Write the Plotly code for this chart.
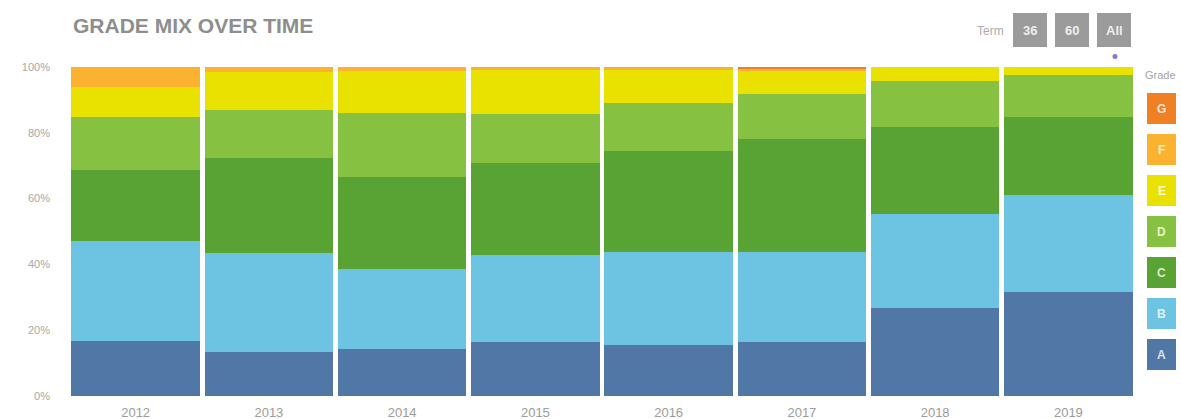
import plotly.graph_objects as go

# ---- data (percent of loans by grade, per year) ----
years = ["2012", "2013", "2014", "2015", "2016", "2017", "2018", "2019"]
grades = ["A", "B", "C", "D", "E", "F", "G"]
grade_a = [16.6, 13.4, 14.4, 16.4, 15.6, 16.4, 26.6, 31.6]
grade_b = [30.4, 30.2, 24.3, 26.4, 28.2, 27.4, 28.8, 29.4]
grade_c = [21.6, 28.6, 27.8, 28.1, 30.7, 34.4, 26.4, 23.8]
grade_d = [16.2, 14.6, 19.6, 14.9, 14.6, 13.7, 13.8, 12.7]
grade_e = [9.2, 11.7, 12.6, 13.2, 9.9, 6.8, 4.4, 2.5]
grade_f = [6.0, 1.5, 1.3, 1.0, 1.0, 0.8, 0.0, 0.0]
grade_g = [0.0, 0.0, 0.0, 0.0, 0.0, 0.5, 0.0, 0.0]
y_ticks = [0, 20, 40, 60, 80, 100]
y_tick_labels = ["0%", "20%", "40%", "60%", "80%", "100%"]
term_buttons = ["36", "60", "All"]

series = [grade_a, grade_b, grade_c, grade_d, grade_e, grade_f, grade_g]
colors = ["#5077a5", "#6cc3e2", "#59a234", "#86c141", "#e9e200", "#fbb230", "#f08024"]

W, H = 1181, 419
ML, MR, MT, MB = 69, 46, 67, 23
PW, PH = W - ML - MR, H - MT - MB


def px(x):
    return (x - ML) / PW


def py(y):
    return (H - MB - y) / PH


fig = go.Figure()
for name, vals, col in zip(grades, series, colors):
    fig.add_trace(go.Bar(
        x=years, y=vals, name=name, marker=dict(color=col, line=dict(width=0)),
        showlegend=False,
    ))

shapes = []
annotations = []

# title
annotations.append(dict(
    text="<b>GRADE MIX OVER TIME</b>", x=px(71), y=py(25), xref="paper", yref="paper",
    xanchor="left", yanchor="middle", showarrow=False,
    font=dict(family="Liberation Sans, Arial", size=21, color="#8e8e8e"),
))

# term selector
annotations.append(dict(
    text="Term", x=px(1006), y=py(31), xref="paper", yref="paper",
    xanchor="right", yanchor="middle", showarrow=False,
    font=dict(family="Liberation Sans, Arial", size=12, color="#ababab"),
))
for i, lab in enumerate(term_buttons):
    x0 = 1013 + i * 42
    shapes.append(dict(type="rect", xref="paper", yref="paper",
                       x0=px(x0), x1=px(x0 + 34), y0=py(47), y1=py(13),
                       fillcolor="#9b9b9b", line=dict(width=0), layer="above"))
    annotations.append(dict(
        text="<b>%s</b>" % lab, x=px(x0 + 17), y=py(30), xref="paper", yref="paper",
        xanchor="center", yanchor="middle", showarrow=False,
        font=dict(family="Liberation Sans, Arial", size=13, color="rgba(255,255,255,0.85)"),
    ))
shapes.append(dict(type="circle", xref="paper", yref="paper",
                   x0=px(1112.5), x1=px(1117.5), y0=py(59), y1=py(54),
                   fillcolor="#8579d6", line=dict(width=0), layer="above"))

# legend (custom boxes with letters)
annotations.append(dict(
    text="Grade", x=px(1143), y=py(75), xref="paper", yref="paper",
    xanchor="left", yanchor="middle", showarrow=False,
    font=dict(family="Liberation Sans, Arial", size=11, color="#a5a5a5"),
))
for i, (name, col) in enumerate(zip(grades[::-1], colors[::-1])):
    top = 93 + i * 41
    shapes.append(dict(type="rect", xref="paper", yref="paper",
                       x0=px(1147), x1=px(1176), y0=py(top + 31), y1=py(top),
                       fillcolor=col, line=dict(width=0), layer="above"))
    annotations.append(dict(
        text="<b>%s</b>" % name, x=px(1161.5), y=py(top + 15.5), xref="paper", yref="paper",
        xanchor="center", yanchor="middle", showarrow=False,
        font=dict(family="Liberation Sans, Arial", size=12, color="rgba(255,255,255,0.8)"),
    ))

fig.update_layout(
    width=W, height=H,
    margin=dict(l=ML, r=MR, t=MT, b=MB, pad=0, autoexpand=False),
    barmode="stack", bargap=0.035,
    paper_bgcolor="white", plot_bgcolor="white",
    font=dict(family="Liberation Sans, Arial", color="#9a9a9a"),
    shapes=shapes, annotations=annotations,
    xaxis=dict(showgrid=False, zeroline=False, showline=False, ticks="", automargin=False,
               tickfont=dict(size=13, color="#9c9c9c"), ticklabelstandoff=7),
    yaxis=dict(range=[0, 100], tickmode="array", tickvals=y_ticks, ticktext=y_tick_labels,
               showgrid=False, zeroline=False, showline=False, ticks="", automargin=False,
               tickfont=dict(size=11, color="#a8a8a8"), ticklabelstandoff=18),
)

fig.write_html("out.html", config={"displayModeBar": False},
               post_script="document.body.style.margin='0';")
